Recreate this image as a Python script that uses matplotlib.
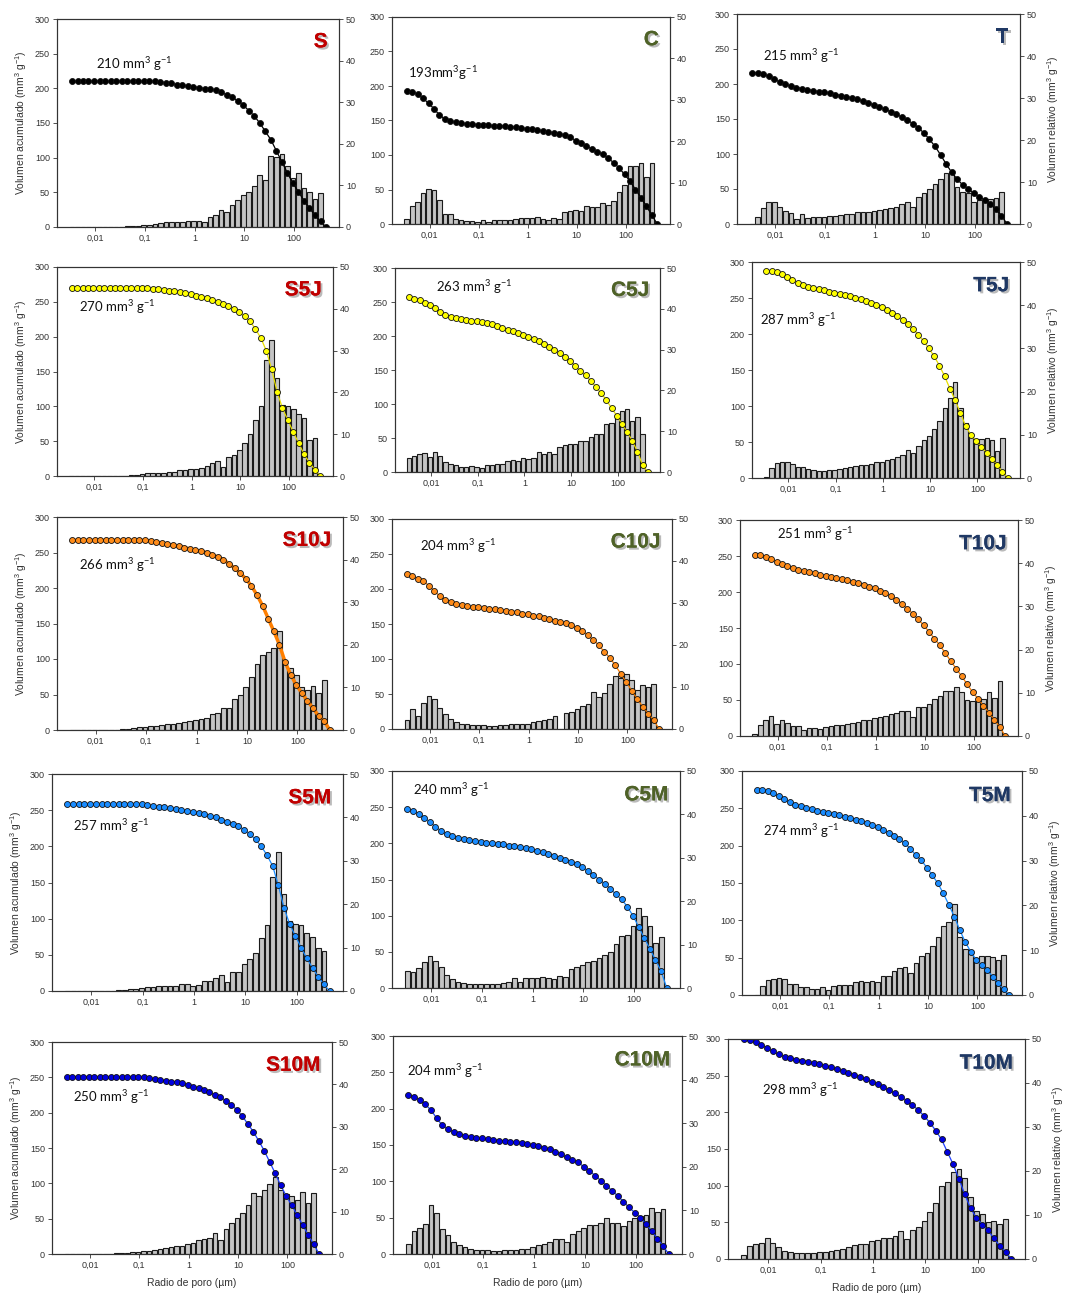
import numpy as np
import matplotlib
matplotlib.use('Agg')
import matplotlib.pyplot as plt
from matplotlib import patheffects
from matplotlib.ticker import FixedLocator, NullLocator

plt.rcParams['font.family'] = ['Liberation Sans', 'DejaVu Sans']
plt.rcParams['mathtext.default'] = 'regular'

# pore radius grid (um), shared by every sample
radius = [0.0034, 0.0044, 0.0057, 0.0073, 0.0095, 0.0122, 0.0158, 0.0204, 0.0263, 0.034,
          0.0439, 0.0567, 0.0733, 0.0946, 0.122, 0.158, 0.204, 0.263, 0.34, 0.439,
          0.567, 0.733, 0.946, 1.22, 1.58, 2.04, 2.63, 3.4, 4.39, 5.67,
          7.33, 9.46, 12.2, 15.8, 20.4, 26.3, 34, 43.9, 56.7, 73.3,
          94.6, 122, 158, 204, 263, 340, 439]

x_ticks = [0.01, 0.1, 1, 10, 100]
x_tick_labels = ['0,01', '0,1', '1', '10', '100']

# --- row 1: S, C, T ---
S_cum = [210, 210, 210, 210, 210, 210, 210, 210, 210, 210,
         210, 210, 210, 210, 210, 210, 209, 208, 207, 205.5,
         204.5, 203.5, 202, 201, 199.5, 198.5, 197, 194, 191, 187,
         182, 176, 168, 160, 150, 138, 126, 110, 94, 78,
         63, 51, 38, 27, 17, 8, 0]
S_rel = [0, 0, 0, 0, 0, 0, 0, 0, 0, 0.1,
         0.15, 0.2, 0.3, 0.4, 0.55, 0.7, 1.0, 1.1, 1.1, 1.3,
         1.3, 1.35, 1.45, 1.45, 1.3, 2.5, 3.0, 4.0, 3.7, 5.3,
         6.6, 7.8, 8.4, 9.9, 12.5, 11.4, 17.0, 16.8, 17.6, 14.7,
         11.8, 13.0, 9.4, 8.4, 6.8, 8.2, 0]
C_cum = [193, 192, 188, 182, 175, 167, 158, 152, 149, 147.5,
         146, 145, 144.5, 144, 143.5, 143, 142.5, 142, 141.5, 141,
         140, 139, 138, 137, 136, 135, 133.5, 132, 130.5, 129,
         126, 121, 117, 113, 109, 105, 101, 95, 89, 81,
         72, 62, 50, 38, 26, 13, 0]
C_rel = [1.3, 4.4, 5.4, 7.4, 8.5, 8.1, 5.9, 2.3, 2.3, 1.3,
         1.0, 0.8, 0.8, 0.6, 0.9, 0.6, 0.9, 1.0, 1.0, 1.0,
         1.3, 1.5, 1.4, 1.5, 1.7, 1.1, 1.0, 1.4, 1.1, 2.9,
         3.1, 3.4, 3.2, 4.4, 4.0, 4.1, 5.0, 4.5, 5.6, 7.8,
         9.4, 14.1, 13.9, 14.7, 11.4, 14.8, 0]
T_cum = [216, 216, 214.5, 211, 207, 203, 199.5, 197, 195, 193.5,
         192, 190.5, 189, 188, 186.5, 185, 183.5, 182, 180, 178,
         175.5, 173, 170, 167, 164, 160.5, 157, 153, 148.5, 143.5,
         137.5, 130, 121, 111, 99, 86, 74, 64, 56, 50,
         44, 39, 34, 28, 21, 12, 0]
T_rel = [0, 1.7, 3.7, 5.3, 5.2, 4.0, 3.2, 2.7, 1.2, 2.3,
         1.5, 1.6, 1.6, 1.7, 1.9, 1.9, 2.1, 2.4, 2.5, 2.8,
         2.8, 2.9, 3.2, 3.3, 3.5, 3.8, 4.1, 4.8, 5.2, 4.1,
         6.5, 7.3, 8.4, 9.6, 10.7, 12.2, 12.5, 8.9, 7.7, 7.5,
         5.3, 5.7, 5.3, 5.9, 6.3, 7.7, 0]

# --- row 2: S5J, C5J, T5J ---
S5J_cum = [270, 270, 270, 270, 270, 270, 270, 270, 270, 270,
           270, 270, 270, 270, 269.5, 269, 268, 267, 266, 265,
           264, 262.5, 261, 259, 257, 255, 252.5, 250, 247, 244,
           240, 235, 229, 222, 211, 198, 180, 153, 121, 97,
           80, 63, 47, 31, 19, 9, 0]
S5J_rel = [0, 0, 0, 0, 0, 0, 0, 0, 0, 0,
           0.1, 0.2, 0.3, 0.4, 0.6, 0.6, 0.8, 0.8, 0.9, 1.0,
           1.5, 1.5, 1.7, 1.7, 2.0, 2.3, 3.2, 3.5, 2.2, 4.6,
           5.0, 6.2, 8.0, 10.0, 13.3, 16.7, 27.7, 32.5, 23.5, 17.0,
           16.7, 16.0, 14.8, 13.8, 8.5, 9.2, 0]
C5J_cum = [258, 255, 252.5, 249, 245, 240.5, 235, 231, 228.5, 226.5,
           225, 223.5, 222.5, 221.5, 220.5, 219.5, 218, 214, 212, 209.5,
           207, 204, 201, 198, 195, 192, 188, 184, 179, 175,
           169, 163, 156, 149, 142, 134, 125, 116, 106, 94,
           83, 71, 59, 46, 30, 10, 0]
C5J_rel = [3.4, 3.9, 4.4, 4.6, 3.75, 4.8, 3.9, 2.5, 2.0, 1.6,
           1.3, 1.2, 1.4, 1.2, 1.0, 1.7, 1.7, 2.0, 2.0, 2.7,
           3.0, 2.7, 3.5, 3.2, 3.5, 4.8, 4.5, 5.0, 4.5, 6.2,
           6.7, 6.8, 6.8, 7.5, 7.5, 8.5, 9.3, 9.3, 11.7, 12.0,
           13.3, 15.0, 15.5, 12.5, 13.5, 9.2, 0]
T5J_cum = [288, 288, 286, 283, 279, 275, 271, 268, 265.5, 263.5,
           262, 260.5, 259, 257.5, 256, 254.5, 252.5, 250.5, 248.5, 246,
           243, 240, 237, 233, 229, 224.5, 219.5, 213.5, 207, 199,
           190, 180, 169, 156, 141, 124, 108, 90, 72, 60,
           51, 43, 35, 27, 18, 9, 0]
T5J_rel = [0.3, 2.2, 3.5, 3.75, 3.8, 3.3, 2.5, 2.5, 2.0, 1.8,
           1.6, 1.7, 1.75, 1.8, 2.0, 2.25, 2.6, 2.75, 2.9, 3.1,
           3.3, 3.6, 3.8, 4.2, 4.4, 4.8, 5.3, 6.5, 5.7, 7.5,
           8.7, 9.7, 11.3, 13.3, 16.2, 18.5, 22.2, 16.3, 12.7, 10.0,
           9.0, 9.0, 9.2, 8.7, 6.3, 9.2, 0]

# --- row 3: S10J, C10J, T10J ---
S10J_cum = [267, 267, 267, 267, 267, 267, 267, 267, 267, 267,
            267, 267, 267, 267, 266, 264.5, 263, 261.5, 260, 258.5,
            257, 255, 253, 251.5, 250, 247, 243.5, 240, 234, 228,
            221, 213, 203, 190, 175, 157, 139, 120, 96, 78,
            63.5, 52, 41, 30.5, 20, 12, 0]
S10J_rel = [0, 0, 0, 0, 0, 0, 0, 0, 0, 0.15,
            0.3, 0.5, 0.6, 0.7, 0.9, 1.0, 1.2, 1.3, 1.5, 1.7,
            1.9, 2.1, 2.25, 2.5, 2.8, 3.8, 4.0, 5.2, 5.2, 7.3,
            8.3, 10.0, 12.5, 15.5, 17.5, 18.3, 19.3, 23.2, 16.2, 14.5,
            12.8, 10.0, 9.5, 10.3, 8.7, 11.7, 0]
C10J_cum = [221, 219, 215, 211, 205, 197, 190, 185, 182, 179,
            177, 175.5, 174.5, 174, 173, 172, 171, 170, 169, 167.5,
            166.5, 165, 164, 162, 161, 159, 157, 155, 153, 152,
            148.5, 145, 140, 134, 127, 120, 110, 102, 91, 79,
            67, 55, 43, 32, 22, 13, 0]
C10J_rel = [2.2, 4.7, 3.0, 6.2, 7.8, 7.2, 5.0, 3.5, 2.3, 1.7,
            1.3, 1.1, 1.0, 0.9, 0.9, 0.8, 0.8, 0.9, 1.0, 1.1,
            1.2, 1.1, 1.3, 1.6, 1.8, 2.2, 2.3, 3.2, 0, 3.8,
            4.0, 4.7, 5.5, 6.0, 8.8, 7.7, 8.5, 10.8, 12.7, 12.2,
            13.2, 11.7, 9.2, 10.5, 10.0, 10.7, 0]
T10J_cum = [251, 251, 249, 246, 242, 239, 236, 233.5, 231, 229,
            227.5, 226, 224, 222.5, 221, 219.5, 218, 216, 214, 212,
            210, 207, 205, 201, 198, 194, 189.5, 184, 177, 170,
            162, 154, 145, 135, 126, 115, 104, 93.5, 83, 72,
            61, 52, 42, 32.5, 22.5, 12.5, 0]
T10J_rel = [0.5, 2.5, 3.7, 4.7, 2.7, 3.8, 3.0, 2.2, 2.2, 1.5,
            1.75, 1.8, 1.7, 2.0, 2.2, 2.5, 2.5, 2.8, 3.0, 3.3,
            3.7, 3.8, 4.2, 4.3, 4.7, 5.0, 5.3, 5.8, 5.7, 4.3,
            6.7, 6.8, 7.5, 8.5, 9.3, 10.5, 10.5, 11.3, 10.2, 8.3,
            8.0, 8.8, 8.5, 10.3, 8.8, 12.7, 0]

# --- row 4: S5M, C5M, T5M ---
S5M_cum = [258, 258, 258, 258, 258, 258, 258, 258, 258, 258,
           258, 258, 258, 258, 257, 256, 254.5, 254, 253, 251.5,
           250, 249, 248, 246, 244.5, 242, 240, 237, 234, 231.5,
           228, 223, 217, 209.5, 200, 188, 173, 146, 115, 92,
           76, 60, 45, 32, 19.5, 9, 0]
S5M_rel = [0, 0, 0, 0, 0, 0, 0, 0, 0, 0.15,
           0.25, 0.35, 0.5, 0.7, 0.85, 1.0, 1.1, 1.1, 1.2, 1.1,
           1.5, 1.5, 1.1, 1.3, 2.2, 2.2, 3.0, 3.7, 2.0, 4.3,
           4.3, 6.3, 7.3, 8.7, 12.3, 15.3, 26.2, 32.0, 22.3, 16.2,
           15.5, 15.3, 13.3, 12.5, 9.8, 9.2, 0]
C5M_cum = [248, 245, 241, 235.5, 229.5, 223, 217, 212.5, 210, 207.5,
           206, 204.5, 203, 202, 201, 200, 199, 198.5, 197, 196,
           195, 193.5, 191.5, 189.5, 187.5, 185, 182, 180, 177.5, 174.5,
           171, 167.5, 162, 156, 150, 144, 137, 129.5, 122.5, 112.5,
           100, 85, 69, 54, 39, 23, 0]
C5M_rel = [4.0, 3.7, 4.7, 6.0, 7.3, 6.2, 4.8, 3.0, 2.0, 1.4,
           1.2, 1.0, 0.9, 0.85, 0.85, 0.85, 1.0, 1.2, 1.3, 2.2,
           1.3, 2.2, 2.2, 2.3, 2.5, 2.3, 2.0, 2.8, 2.5, 4.3,
           4.8, 5.2, 6.0, 6.3, 7.0, 7.5, 8.3, 10.2, 12.0, 12.2,
           14.3, 18.5, 16.5, 14.3, 10.3, 11.7, 0]
T5M_cum = [275, 275, 273, 270, 266, 262, 258, 255, 253, 250.5,
           249, 247, 245, 244, 242, 240.5, 239, 237, 235, 232.5,
           230, 228, 225, 221.5, 217.5, 213, 208.5, 203, 196, 187,
           180.5, 170.5, 160.5, 149.5, 136, 121, 105, 87, 71, 58,
           47, 40, 33.5, 24.5, 15.5, 7.5, 0]
T5M_rel = [0, 2.0, 3.3, 3.5, 3.8, 3.5, 2.5, 2.5, 1.8, 1.8,
           1.3, 1.3, 1.7, 1.2, 2.0, 2.2, 2.2, 2.3, 3.0, 3.2,
           3.0, 3.2, 3.0, 4.3, 4.3, 5.3, 6.0, 6.3, 5.0, 7.2,
           8.7, 9.3, 11.0, 13.0, 15.3, 16.2, 20.3, 13.0, 10.3, 9.5,
           7.3, 8.7, 8.7, 8.5, 7.8, 9.0, 0]

# --- row 5: S10M, C10M, T10M ---
S10M_cum = [251, 251, 251, 251, 251, 251, 251, 251, 251, 251,
            251, 251, 251, 250.5, 250, 249, 247.5, 246.5, 245, 244,
            243, 241.5, 239.5, 237, 235, 232, 229, 225, 221.5, 217,
            211, 204, 195, 184, 173, 160, 146, 130, 114, 97,
            82, 69, 55, 41, 27, 14, 0]
S10M_rel = [0, 0, 0, 0, 0, 0, 0, 0, 0, 0.15,
            0.25, 0.35, 0.4, 0.5, 0.7, 0.8, 1.0, 1.25, 1.5, 1.7,
            1.8, 1.9, 2.3, 2.7, 3.25, 3.5, 3.7, 5.0, 3.3, 5.8,
            7.2, 8.5, 9.7, 11.5, 14.3, 13.7, 15.0, 16.5, 18.2, 15.0,
            14.2, 13.7, 12.7, 14.7, 12.0, 14.5, 0]
C10M_cum = [219, 216.5, 212, 206, 198, 187, 177, 172, 168, 165,
            163, 161, 160, 159, 158, 157, 156, 155, 154.5, 153.5,
            152.5, 151, 150, 148, 146, 144, 141, 137, 133, 129,
            126, 120, 114, 108, 101, 94, 87, 80, 72, 64,
            57, 50, 41, 32, 21, 11, 0]
C10M_rel = [2.3, 5.2, 6.0, 6.8, 11.3, 9.5, 5.7, 4.3, 2.7, 2.0,
            1.5, 1.2, 1.0, 0.85, 0.85, 0.75, 0.75, 0.85, 0.9, 1.0,
            1.2, 1.25, 1.5, 2.0, 2.2, 2.8, 3.5, 3.5, 2.8, 4.7,
            5.2, 6.0, 6.7, 6.7, 7.0, 8.3, 7.0, 7.2, 6.5, 7.5,
            8.2, 8.7, 9.0, 10.5, 9.7, 10.3, 0]
T10M_cum = [300, 298.5, 295.5, 292, 288, 283, 279, 276, 274, 272,
            270.5, 269, 267.5, 265.5, 263.5, 261.5, 259, 256.5, 254, 251,
            248, 245, 241.5, 238, 234, 230, 226, 221, 216, 210,
            203, 195, 186, 175, 163, 146, 129, 109, 88, 69,
            56, 47, 39, 28, 18, 10, 0]
T10M_rel = [0.8, 3.0, 3.3, 3.7, 4.7, 3.7, 2.8, 1.8, 1.7, 1.4,
            1.4, 1.4, 1.3, 1.6, 1.7, 1.9, 2.1, 2.3, 2.7, 3.2,
            3.3, 3.5, 4.0, 4.3, 4.7, 4.7, 5.3, 6.3, 4.5, 6.5,
            7.3, 8.7, 10.7, 12.8, 16.5, 17.5, 19.7, 20.5, 18.3, 14.2,
            11.0, 10.2, 8.3, 8.7, 8.0, 9.2, 0]

# total intrusion labels
totals = {
    'S': '210 mm$^3$ g$^{-1}$', 'C': '193mm$^3$g$^{-1}$', 'T': '215 mm$^3$ g$^{-1}$',
    'S5J': '270 mm$^3$ g$^{-1}$', 'C5J': '263 mm$^3$ g$^{-1}$', 'T5J': '287 mm$^3$ g$^{-1}$',
    'S10J': '266 mm$^3$ g$^{-1}$', 'C10J': '204 mm$^3$ g$^{-1}$', 'T10J': '251 mm$^3$ g$^{-1}$',
    'S5M': '257 mm$^3$ g$^{-1}$', 'C5M': '240 mm$^3$ g$^{-1}$', 'T5M': '274 mm$^3$ g$^{-1}$',
    'S10M': '250 mm$^3$ g$^{-1}$', 'C10M': '204 mm$^3$ g$^{-1}$', 'T10M': '298 mm$^3$ g$^{-1}$',
}

W, H = 1065, 1295
fig = plt.figure(figsize=(W / 100, H / 100), dpi=100)

label_colors = {'S': '#c00000', 'C': '#4f6228', 'T': '#1f3864'}
# marker face, line colour per row
row_styles = [('#000000', '#000000'), ('#ffff00', '#e8e000'), ('#ff8c1a', '#ff7f00'),
              ('#1a8cff', '#1a8cff'), ('#0000dd', '#2040ff')]


def px_box(x0, y0, x1, y1):
    return [x0 / W, 1 - y1 / H, (x1 - x0) / W, (y1 - y0) / H]


def draw_panel(name, cum, rel, rect, row, text_pos, lw=0.9):
    ax = fig.add_axes(px_box(*rect))
    ax2 = ax.twinx()
    ax.set_xscale('log')
    ax.set_xlim(0.0017, 800)

    r = np.array(radius)
    k = 10 ** (0.42 / 9)
    ax2.bar(r / k, rel, width=r * k - r / k, align='edge', color='#c4c4c4',
            edgecolor='#1a1a1a', linewidth=0.8)
    face, line = row_styles[row]
    ax.plot(radius, cum, '-', color=line, lw=lw, marker='o', ms=4.3,
            mfc=face, mec='#111111', mew=0.6)
    ax.set_zorder(ax2.get_zorder() + 1)
    ax.patch.set_visible(False)

    ax.set_ylim(0, 300)
    ax2.set_ylim(0, 50)
    ax.set_yticks(range(0, 301, 50))
    ax2.set_yticks(range(0, 51, 10))
    ax.xaxis.set_major_locator(FixedLocator(x_ticks))
    ax.set_xticklabels(x_tick_labels)
    ax.xaxis.set_minor_locator(NullLocator())
    for a in (ax, ax2):
        a.tick_params(labelsize=6.5, length=3, width=0.6, colors='#333333', pad=2)
        for s in a.spines.values():
            s.set_linewidth(0.8)
            s.set_color('#333333')

    fam = name[0]
    if fam == 'S':
        ax.set_ylabel('Volumen acumulado (mm$^3$ g$^{-1}$)', fontsize=7.5, color='#333333', labelpad=4)
    if fam == 'T':
        ax2.set_ylabel('Volumen relativo (mm$^3$ g$^{-1}$)', fontsize=7.5, color='#333333', labelpad=6)
    if row == 4:
        ax.set_xlabel('Radio de poro (µm)', fontsize=7.5, color='#333333', labelpad=6)

    ax.text(0.96, 0.89, name, transform=ax.transAxes, ha='right', va='center',
            fontsize=15, fontweight='bold', color=label_colors[fam],
            path_effects=[patheffects.withSimplePatchShadow(offset=(1.5, -1.5),
                                                            shadow_rgbFace='#777777', alpha=0.5),
                          patheffects.Normal()])
    ax.text(text_pos[0], text_pos[1], totals[name], transform=ax.transAxes,
            ha='left', va='center', fontsize=9.5, family=['Lato', 'DejaVu Sans'], color='#111111')


draw_panel('S', S_cum, S_rel, (57, 19, 339, 227), 0, (0.14, 0.785))
draw_panel('C', C_cum, C_rel, (392, 17, 670, 224), 0, (0.058, 0.73))
draw_panel('T', T_cum, T_rel, (737, 14, 1020, 224), 0, (0.092, 0.80))

draw_panel('S5J', S5J_cum, S5J_rel, (57, 267, 333, 476), 1, (0.08, 0.81))
draw_panel('C5J', C5J_cum, C5J_rel, (395, 268, 660, 472), 1, (0.155, 0.907))
draw_panel('T5J', T5J_cum, T5J_rel, (752, 262, 1020, 478), 1, (0.03, 0.73))

draw_panel('S10J', S10J_cum, S10J_rel, (57, 517, 343, 730), 2, (0.077, 0.775), lw=2.5)
draw_panel('C10J', C10J_cum, C10J_rel, (392, 519, 672, 729), 2, (0.10, 0.87))
draw_panel('T10J', T10J_cum, T10J_rel, (740, 520, 1018, 736), 2, (0.133, 0.935))

draw_panel('S5M', S5M_cum, S5M_rel, (52, 774, 343, 991), 3, (0.072, 0.76))
draw_panel('C5M', C5M_cum, C5M_rel, (392, 771, 680, 988), 3, (0.073, 0.91))
draw_panel('T5M', T5M_cum, T5M_rel, (742, 771, 1022, 995), 3, (0.075, 0.73))

draw_panel('S10M', S10M_cum, S10M_rel, (52, 1042, 332, 1254), 4, (0.075, 0.74))
draw_panel('C10M', C10M_cum, C10M_rel, (393, 1036, 682, 1254), 4, (0.05, 0.84))
draw_panel('T10M', T10M_cum, T10M_rel, (728, 1039, 1025, 1259), 4, (0.114, 0.77))

fig.savefig('out.png', dpi=100)
